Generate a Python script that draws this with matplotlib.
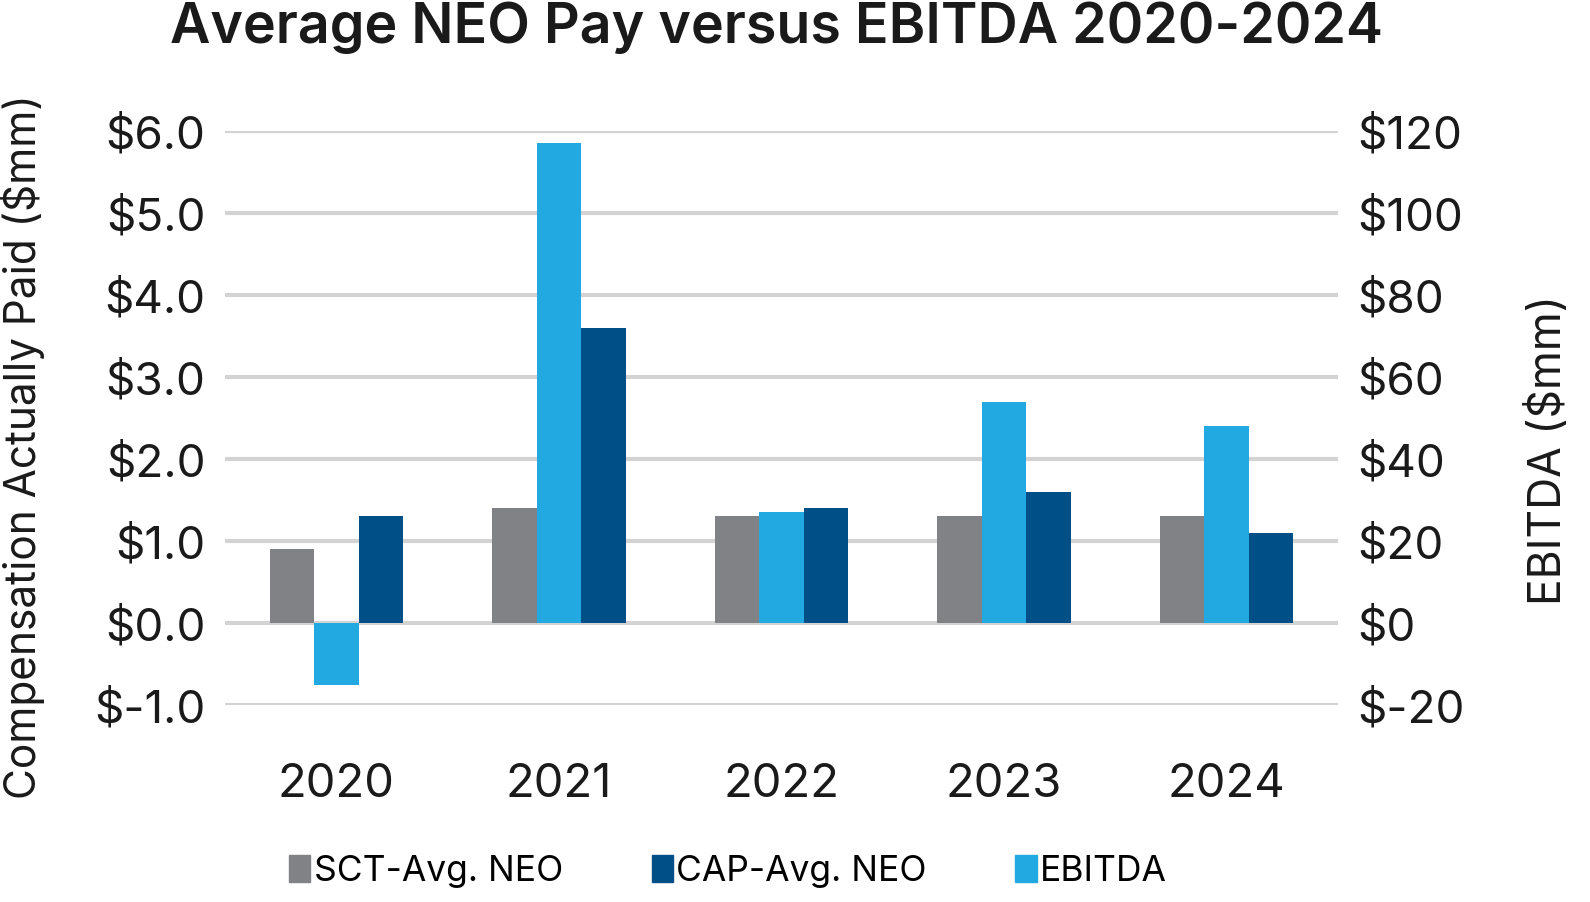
import numpy as np
import matplotlib.pyplot as plt
from matplotlib.patches import Patch

years = ["2020", "2021", "2022", "2023", "2024"]
sct_avg = [0.9, 1.4, 1.3, 1.3, 1.3]
cap_avg = [1.3, 3.6, 1.4, 1.6, 1.1]
ebitda = [-15, 117, 27, 54, 48]

c_sct = "#818285"
c_cap = "#004F86"
c_ebitda = "#23A9E1"
grid_c = "#D3D3D3"
txt_c = "#1a1a1a"

plt.rcParams['font.family'] = ['Inter', 'DejaVu Sans']

W, H = 1590, 903
fig = plt.figure(figsize=(W / 100, H / 100), dpi=100)
ax = fig.add_axes([225 / W, 1 - 706 / H, (1338 - 225) / W, (706 - 132) / H])
ax2 = ax.twinx()

x = np.arange(len(years))
w = 0.2
ax.bar(x - w, sct_avg, w, color=c_sct, zorder=3)
ax.bar(x + w, cap_avg, w, color=c_cap, zorder=3)
ax2.bar(x, ebitda, w, color=c_ebitda, zorder=3)

ax.set_xlim(-0.5, 4.5)
ax.set_ylim(-1, 6)
ax2.set_ylim(-20, 120)
ax.set_yticks(np.arange(-1, 7, 1))
ax2.set_yticks(np.arange(-20, 140, 20))
ax.set_yticklabels(["$%.1f" % v for v in np.arange(-1, 7, 1)])
ax2.set_yticklabels(["$%d" % v for v in np.arange(-20, 140, 20)])
ax.set_xticks(x)
ax.set_xticklabels(years)

ax.grid(axis='y', color=grid_c, linewidth=3, zorder=0)
ax.set_axisbelow(True)
for a in (ax, ax2):
    for s in a.spines.values():
        s.set_visible(False)
    a.tick_params(length=0, labelsize=33, colors=txt_c)
ax.tick_params(axis='x', labelsize=34, pad=41)
ax.tick_params(axis='y', pad=14)
ax2.tick_params(axis='y', pad=14)

fig.text(22 / W, 1 - 447 / H, "Compensation Actually Paid ($mm)", rotation=90,
         ha='center', va='center', fontsize=30.5, color=txt_c)
fig.text(1548 / W, 1 - 450 / H, "EBITDA ($mm)", rotation=90,
         ha='center', va='center', fontsize=32, color=txt_c)

fig.text(777 / W, 1 - 28 / H, "Average NEO Pay versus EBITDA 2020-2024", fontsize=40,
         fontweight='semibold', ha='center', va='center', color=txt_c)

handles = [Patch(color=c_sct, label="SCT-Avg. NEO"),
           Patch(color=c_cap, label="CAP-Avg. NEO"),
           Patch(color=c_ebitda, label="EBITDA")]
fig.legend(handles=handles, loc='center', bbox_to_anchor=(728 / W, 1 - 872 / H), ncol=3,
           frameon=False, fontsize=25.5, handlelength=0.6, handleheight=0.8,
           handletextpad=0.1, columnspacing=2.5)

fig.savefig("out.png", dpi=100)
